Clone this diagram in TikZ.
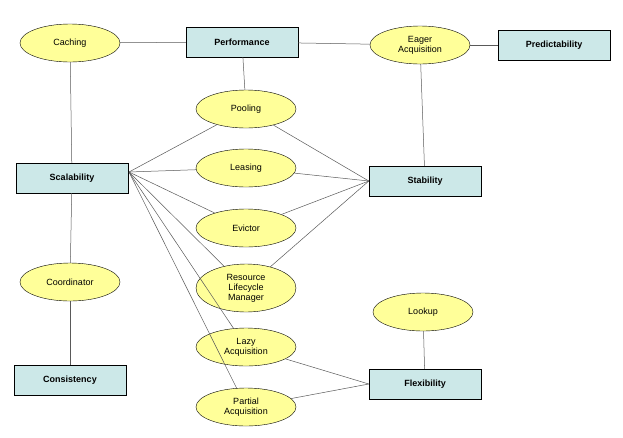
\documentclass[tikz,border=0pt]{standalone}
\usepackage{fontspec}
\setmainfont{Liberation Sans}
\usetikzlibrary{shapes.geometric}
\definecolor{ovalfill}{RGB}{255,255,153}
\definecolor{boxfill}{RGB}{204,232,232}
\begin{document}
\begin{tikzpicture}[
    x=1pt, y=-1pt,
    font=\fontsize{9}{10}\selectfont,
    oval/.style={draw, ellipse, fill=ovalfill, minimum width=100pt, minimum height=38pt, align=center, inner sep=1pt},
    box/.style={draw, rectangle, fill=boxfill, minimum width=112pt, minimum height=30pt, font=\fontsize{9}{10}\selectfont\bfseries},
    link/.style={draw, gray!70!black, line width=0.5pt}
]
\useasboundingbox (0,0) rectangle (623,437);
\node[oval] (caching) at (70,43) {Caching};
\node[box] (perf) at (242,42) {Performance};
\node[oval] (eager) at (420,45) {Eager\\Acquisition};
\node[box] (predict) at (554,45) {Predictability};
\node[oval] (pooling) at (246,109) {Pooling};
\node[oval] (leasing) at (246,168) {Leasing};
\node[oval] (evictor) at (246,228) {Evictor};
\node[oval, minimum height=48pt] (rlm) at (246,288) {Resource\\Lifecycle\\Manager};
\node[oval] (lazy) at (246,347) {Lazy\\Acquisition};
\node[oval] (partial) at (246,407) {Partial\\Acquisition};
\node[box] (scal) at (72,178) {Scalability};
\node[box] (stab) at (425,181) {Stability};
\node[oval] (coord) at (70,282) {Coordinator};
\node[box] (consist) at (70,380) {Consistency};
\node[oval] (lookup) at (423,312) {Lookup};
\node[box] (flex) at (425,384) {Flexibility};

\coordinate (scalR) at (129,172);
\draw[link] (caching) -- (perf);
\draw[link] (perf) -- (eager);
\draw[link] (eager) -- (predict);
\draw[link] (caching) -- (scal);
\draw[link] (perf) -- (pooling);
\draw[link] (eager) -- (stab);
\foreach \n in {pooling, leasing, evictor, rlm, lazy, partial}
    \draw[link] (scalR) -- (\n);
\foreach \n in {pooling, leasing, evictor, rlm}
    \draw[link] (\n) -- (stab.west);
\draw[link] (scal) -- (coord);
\draw[link] (coord) -- (consist);
\draw[link] (lazy) -- (flex.west);
\draw[link] (partial) -- (flex.west);
\draw[link] (lookup) -- (flex);
\end{tikzpicture}
\end{document}
